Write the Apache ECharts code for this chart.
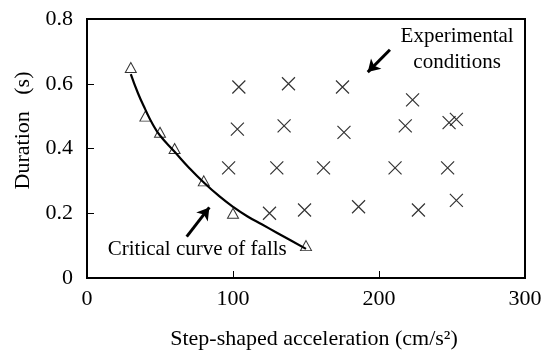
<!DOCTYPE html>
<html>
<head>
<meta charset="utf-8">
<script src="https://cdn.jsdelivr.net/npm/echarts@6/dist/echarts.min.js"></script>
<style>
html,body{margin:0;padding:0;background:#fff;}
#chart{width:550px;height:356px;}
</style>
</head>
<body>
<div id="chart"></div>
<script>
// Critical points (triangles)
const criticalX = [30, 40, 50, 60, 80, 100, 150];
const criticalY = [0.65, 0.50, 0.45, 0.40, 0.30, 0.20, 0.10];
// Critical curve of falls
const curveX = [30, 35, 40, 45, 50, 60, 70, 80, 90, 100, 110, 120, 130, 140, 150];
const curveY = [0.63, 0.57, 0.52, 0.475, 0.44, 0.39, 0.34, 0.295, 0.255, 0.22, 0.19, 0.165, 0.14, 0.115, 0.09];
// Experimental conditions (crosses)
const expX = [104, 138, 175, 223, 103, 135, 176, 218, 248, 253, 97, 130, 162, 211, 247, 125, 149, 186, 227, 253];
const expY = [0.59, 0.60, 0.59, 0.55, 0.46, 0.47, 0.45, 0.47, 0.48, 0.49, 0.34, 0.34, 0.34, 0.34, 0.34, 0.20, 0.21, 0.22, 0.21, 0.24];
// Axis settings
const xMin = 0, xMax = 300, xStep = 100;
const yMin = 0, yMax = 0.8, yStep = 0.2;
// Labels
const xTitle = 'Step-shaped acceleration (cm/s\u00B2)';
const yTitle = 'Duration   (s)';
const expLabel = 'Experimental\nconditions';
const curveLabel = 'Critical curve of falls';
// Annotation anchors (data coordinates)
const expLabelAt = [253.5, 0.705];
const curveLabelAt = [75.5, 0.088];
const expArrow = [[207.5, 0.705], [192.3, 0.636]];
const curveArrow = [[68.3, 0.128], [83.8, 0.218]];

const FONT = 'Liberation Serif';
const zip = (a, b) => a.map((v, i) => [v, b[i]]);

const chart = echarts.init(document.getElementById('chart'), null, {renderer: 'canvas'});

const axisCommon = {
  type: 'value',
  nameLocation: 'middle',
  axisLine: {show: true, onZero: false, lineStyle: {color: '#000', width: 2}},
  axisTick: {show: true, inside: true, length: 7, lineStyle: {color: '#000', width: 1}},
  splitLine: {show: false},
};

const option = {
  animation: false,
  backgroundColor: '#fff',
  textStyle: {fontFamily: FONT},
  grid: {left: 87, right: 25, top: 19, bottom: 78, show: true, borderColor: '#000', borderWidth: 2},
  xAxis: Object.assign({}, axisCommon, {
    min: xMin, max: xMax, interval: xStep,
    name: xTitle, nameGap: 50,
    nameTextStyle: {fontSize: 22, color: '#000', fontFamily: FONT, padding: [0, 0, 0, 16]},
    axisLabel: {fontSize: 22, color: '#000', fontFamily: FONT, margin: 10}
  }),
  yAxis: Object.assign({}, axisCommon, {
    min: yMin, max: yMax, interval: yStep,
    name: yTitle, nameGap: 50,
    nameTextStyle: {fontSize: 22, color: '#000', fontFamily: FONT, padding: [0, 0, 0, 36]},
    axisLabel: {fontSize: 22, color: '#000', fontFamily: FONT, margin: 14}
  }),
  series: [
    {
      name: 'Experimental conditions',
      type: 'scatter',
      data: zip(expX, expY),
      symbol: 'path://M0,0L10,10M10,0L0,10',
      symbolSize: 13,
      itemStyle: {color: 'transparent', borderColor: '#000', borderWidth: 1.2},
      silent: true,
      z: 3
    },
    {
      name: 'Critical points',
      type: 'scatter',
      data: zip(criticalX, criticalY),
      symbol: 'triangle',
      symbolSize: [11, 10],
      itemStyle: {color: 'transparent', borderColor: '#000', borderWidth: 1},
      silent: true,
      z: 3
    },
    {
      name: 'Critical curve of falls',
      type: 'line',
      data: zip(curveX, curveY),
      smooth: true,
      showSymbol: false,
      symbol: 'none',
      lineStyle: {color: '#000', width: 2.2},
      silent: true,
      z: 4,
      markLine: {
        silent: true,
        animation: false,
        symbol: ['none', 'arrow'],
        symbolSize: [11, 12],
        label: {show: false},
        lineStyle: {color: '#000', width: 3, type: 'solid'},
        emphasis: {disabled: true},
        data: [
          [{coord: expArrow[0]}, {coord: expArrow[1]}],
          [{coord: curveArrow[0]}, {coord: curveArrow[1]}]
        ]
      },
      markPoint: {
        silent: true,
        animation: false,
        symbol: 'circle',
        symbolSize: 1,
        itemStyle: {color: 'transparent'},
        label: {show: true, position: 'inside', color: '#000', fontFamily: FONT, fontSize: 21, lineHeight: 26, align: 'center'},
        data: [
          {coord: expLabelAt, label: {formatter: expLabel}},
          {coord: curveLabelAt, label: {formatter: curveLabel}}
        ]
      }
    }
  ]
};

chart.setOption(option);
</script>
</body>
</html>
